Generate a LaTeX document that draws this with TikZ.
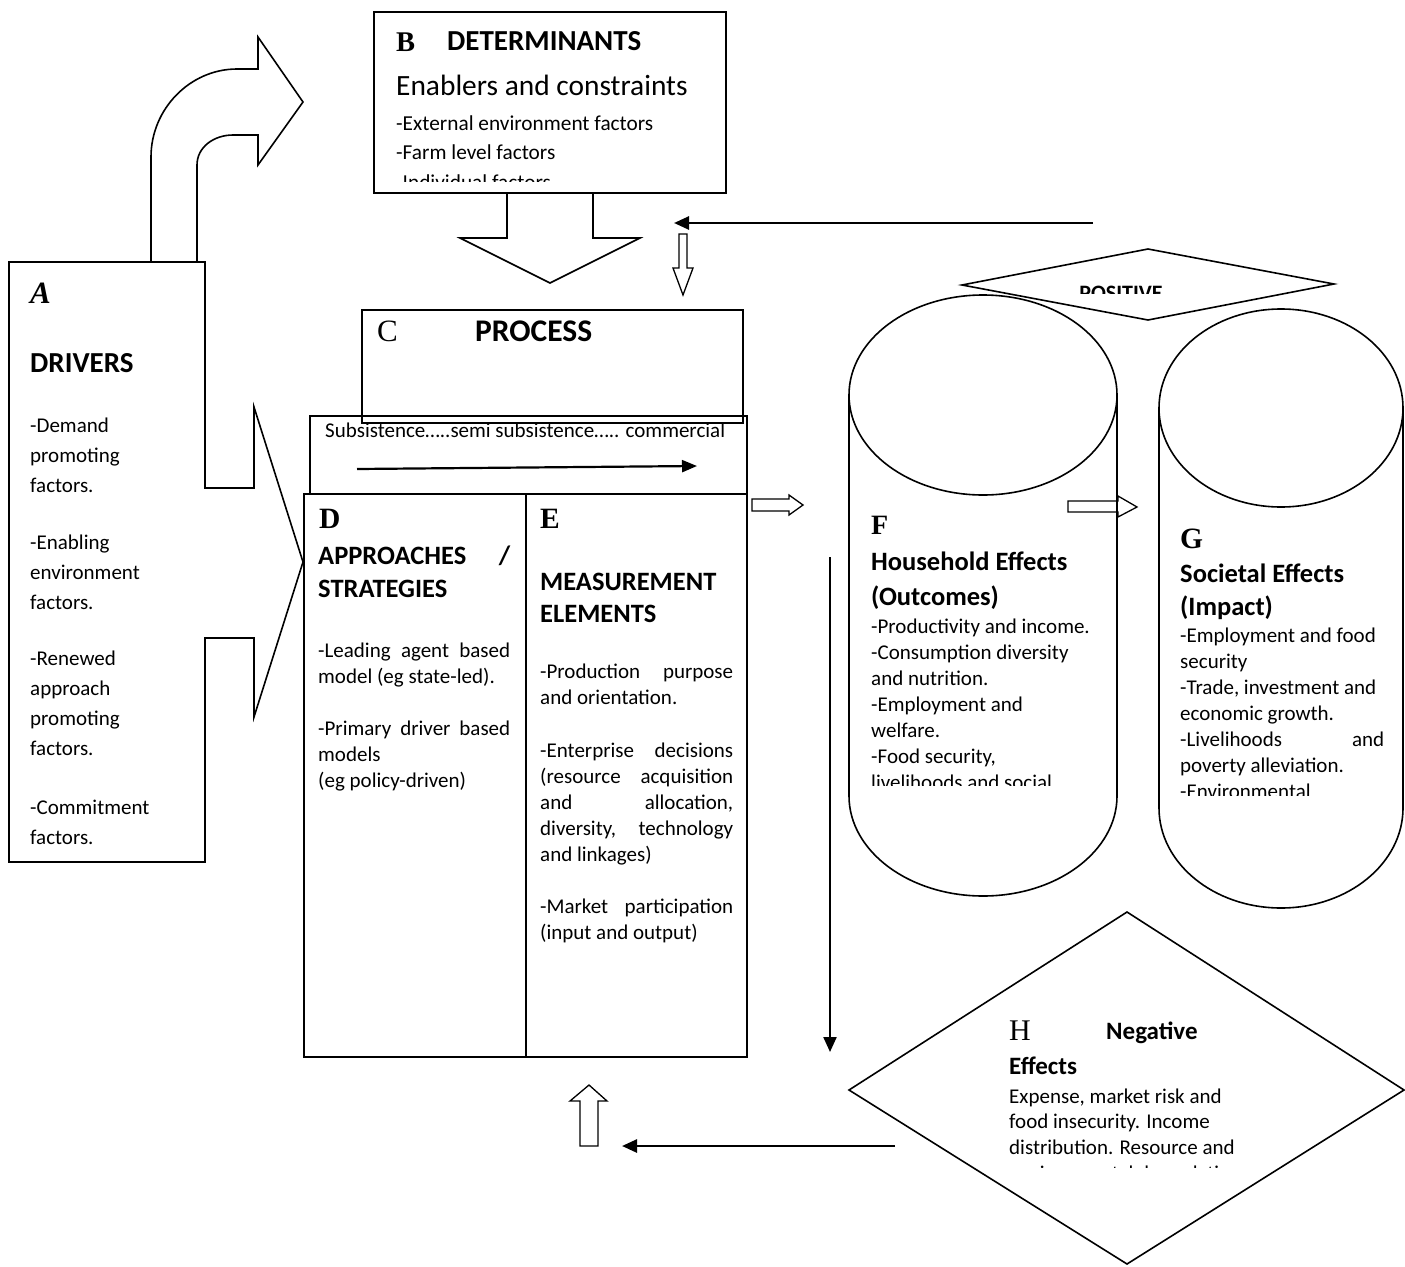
\documentclass[tikz,border=0pt]{standalone}
\usepackage{fontspec}
\setmainfont{Carlito}
\newfontfamily\lettfont{Liberation Serif}
\usetikzlibrary{arrows.meta}

\newcommand\bodysz{\fontsize{21}{26}\selectfont}
\newcommand\headsz{\fontsize{26.5}{33}\selectfont\bfseries}
\newcommand\spread[2]{\makebox[#1][s]{#2}}

\begin{document}
\begin{tikzpicture}[x=1pt,y=-1pt,
  outline/.style={line width=1.6pt, line join=miter},
  hollow/.style={line width=1.3pt, fill=white},
  flow/.style={line width=2.6pt, -{Triangle[length=15pt,width=13pt]}},
  txt/.style={anchor=north west, inner sep=0pt, align=left, font=\bodysz},
  head/.style={anchor=base west, inner sep=0pt, align=left, font=\headsz},
  lett/.style={anchor=base west, inner sep=0pt, font=\lettfont\fontsize{29.5}{30}\selectfont\bfseries}]

\useasboundingbox (0,0) rectangle (1405,1266);
\fill[white] (0,0) rectangle (1405,1266);

% A: drivers, with the curved arrow up to B and the wide arrow into D
\draw[outline] (151,262) -- (151,157) .. controls (151,109) and (190,69) .. (237,69)
  -- (258,69) -- (258,37) -- (303,102) -- (258,165) -- (258,135) -- (233,135)
  .. controls (214,135) and (197,147) .. (197,165) -- (197,262);
\draw[outline] (205,488) -- (205,262) -- (9,262) -- (9,862) -- (205,862) -- (205,638)
  -- (254,638) -- (254,717) -- (303,562) -- (254,407) -- (254,488) -- cycle;
\node[lett, font=\lettfont\fontsize{31}{30}\selectfont\bfseries\itshape] (lblA) at (30,303) {A};
\node[head, font=\fontsize{29}{33}\selectfont\bfseries] (ttlA) at (30,372) {DRIVERS};
\node[txt, font=\fontsize{21}{30}\selectfont] (txtA) at (30,411)
  {\strut-Demand\\promoting\\factors.\\[27pt]-Enabling\\environment\\factors.\\[26pt]-Renewed\\approach\\promoting\\factors.\\[29pt]-Commitment\\factors.};

% B: determinants
\draw[outline, fill=white] (374,12) rectangle (726,193);
\draw[outline] (507,193) -- (507,238) -- (460,238) -- (550,283) -- (640,238) -- (593,238) -- (593,193);
\node[lett, font=\lettfont\fontsize{28.5}{30}\selectfont\bfseries] (lblB) at (396,51) {B};
\node[head, font=\fontsize{29}{30}\selectfont\bfseries] (ttlB) at (447,50) {DETERMINANTS};
\node[txt, anchor=base west, font=\fontsize{29.4}{30}\selectfont] (subB) at (396,95) {Enablers and constraints};
\begin{scope}
  \clip (374,12) rectangle (726,181);
  \node[txt, font=\fontsize{21.3}{29.5}\selectfont] (txtB) at (396,109.4)
    {\strut-External environment factors\\-Farm level factors\\-Individual factors};
\end{scope}

% feedback arrows at the top
\coordinate (posS) at (1093,223);
\coordinate (posE) at (674,223);
\draw[flow] (posS) -- (posE);
\draw[hollow] (679,234) -- (687,234) -- (687,268) -- (693,268) -- (683,295) -- (673,268) -- (679,268) -- cycle;

% C: process
\draw[outline] (362,310) rectangle (743,423);
\node[lett, font=\lettfont\fontsize{31}{30}\selectfont] (lblC) at (377,341) {C};
\node[head, font=\fontsize{31.5}{33}\selectfont\bfseries] (ttlC) at (475,341) {PROCESS};
\draw[outline] (310,416) rectangle (747,494);
\node[txt, anchor=base west, font=\fontsize{21}{22}\selectfont] (scale) at (325,437) {Subsistence…..semi subsistence….. commercial};
\coordinate (scS) at (357,469);
\coordinate (scE) at (697,466);
\draw[line width=2.2pt, -{Triangle[length=15pt,width=12pt]}] (scS) -- (scE);

% D and E
\draw[outline] (304,494) rectangle (747,1057);
\draw[outline] (526,494) -- (526,1057);
\node[lett] (lblD) at (319,528) {D};
\node[head] (ttlD) at (318,597) {\spread{192pt}{APPROACHES /}\\STRATEGIES};
\node[txt] (txtD) at (318,638.8)
  {\strut\spread{192pt}{-Leading agent based}\\model (eg state-led).\\[26pt]\spread{192pt}{-Primary driver based}\\models\\(eg policy-driven)};
\node[lett] (lblE) at (540,528) {E};
\node[head, font=\fontsize{26.5}{32}\selectfont\bfseries] (ttlE) at (540,622) {MEASUREMENT\\ELEMENTS};
\node[txt] (txtE) at (540,659.8)
  {\strut\spread{193pt}{-Production purpose}\\and orientation.\\[27pt]\spread{193pt}{-Enterprise decisions}\\\spread{193pt}{(resource acquisition}\\\spread{193pt}{and allocation,}\\\spread{193pt}{diversity, technology}\\and linkages)\\[26pt]\spread{193pt}{-Market participation}\\(input and output)};

% hollow arrows to F and G
\draw[hollow] (752,499) -- (789,499) -- (789,495) -- (803,505) -- (789,515) -- (789,511) -- (752,511) -- cycle;
\draw[hollow] (1068,501) -- (1118,501) -- (1118,496) -- (1137,507) -- (1118,517) -- (1118,512) -- (1068,512) -- cycle;

% positive diamond
\draw[outline] (962,285) -- (1148,249) -- (1334,284) -- (1148,320) -- cycle;
\begin{scope}
  \clip (962,249) rectangle (1334,293);
  \node[anchor=base, inner sep=0pt, font=\fontsize{22}{26}\selectfont\bfseries] (pos) at (1121,300) {POSITIVE};
\end{scope}

% F: household cylinder
\draw[outline] (983,395) ellipse [x radius=134, y radius=100];
\draw[outline] (849,395) -- (849,796) arc [start angle=180, end angle=0, x radius=134, y radius=100] -- (1117,395);
\node[lett, font=\lettfont\fontsize{28}{30}\selectfont\bfseries] (lblF) at (871,534) {F};
\node[head, font=\fontsize{26.5}{35}\selectfont\bfseries] (ttlF) at (871,605) {Household Effects\\(Outcomes)};
\begin{scope}
  \clip (849,395) rectangle (1117,785);
  \node[txt] (txtF) at (871,614.8)
    {\strut-Productivity and income.\\-Consumption diversity\\and nutrition.\\-Employment and\\welfare.\\-Food security,\\livelihoods and social};
\end{scope}

% G: societal cylinder
\draw[outline] (1281,408) ellipse [x radius=122, y radius=99];
\draw[outline] (1159,408) -- (1159,808) arc [start angle=180, end angle=0, x radius=122, y radius=100] -- (1403,408);
\node[lett, font=\lettfont\fontsize{29.5}{30}\selectfont\bfseries] (lblG) at (1180,548) {G};
\node[head, font=\fontsize{26.5}{33}\selectfont\bfseries] (ttlG) at (1180,615) {Societal Effects\\(Impact)};
\begin{scope}
  \clip (1159,408) rectangle (1403,795);
  \node[txt] (txtG) at (1180,623.8)
    {\strut-Employment and food\\security\\-Trade, investment and\\economic growth.\\\spread{204pt}{-Livelihoods and}\\poverty alleviation.\\-Environmental};
\end{scope}

% H: negative effects
\coordinate (negS) at (830,557);
\coordinate (negE) at (830,1052);
\draw[flow, line width=2.2pt] (negS) -- (negE);
\draw[outline] (1127,912) -- (1404,1090) -- (1127,1264) -- (849,1090) -- cycle;
\node[lett, font=\lettfont\fontsize{30}{30}\selectfont] (lblH) at (1009,1040) {H};
\node[head, font=\fontsize{25}{30}\selectfont\bfseries] (ttlH) at (1106,1039) {Negative};
\node[head, font=\fontsize{25}{30}\selectfont\bfseries] (ttlH2) at (1009,1074) {Effects};
\begin{scope}
  \clip (849,912) rectangle (1404,1167);
  \node[txt, font=\fontsize{21}{25.7}\selectfont] (txtH) at (1009,1085)
    {\strut Expense, market risk and\\food insecurity. Income\\distribution. Resource and\\environmental degradation};
\end{scope}
\coordinate (backS) at (895,1146);
\coordinate (backE) at (622,1146);
\draw[flow] (backS) -- (backE);
\draw[hollow] (580,1146) -- (580,1101) -- (570,1101) -- (589,1085) -- (607,1101) -- (598,1101) -- (598,1146) -- cycle;

\end{tikzpicture}
\end{document}
